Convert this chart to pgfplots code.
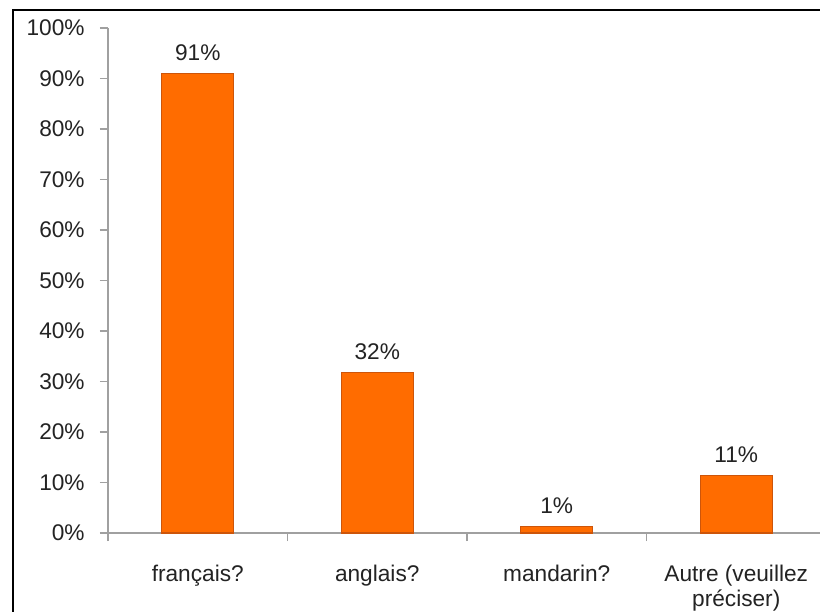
\documentclass[border=0pt]{standalone}
\usepackage{pgfplots}
\pgfplotsset{compat=1.18}
\usepackage{fontspec}
\setmainfont{Liberation Sans}
\definecolor{barfill}{RGB}{255,108,0}
\definecolor{baredge}{RGB}{205,85,10}
\definecolor{axgray}{RGB}{160,160,160}
\definecolor{txt}{RGB}{35,35,35}
\begin{document}
\begin{tikzpicture}[x=0.75pt,y=0.75pt]
\useasboundingbox (0,0) rectangle (820,611);
\clip (0,0) rectangle (820,611);
\fill[white] (0,0) rectangle (820,611);
\draw[black, line width=1.5pt] (12.5,-20) -- (12.5,600.5) -- (840,600.5);
\begin{axis}[
  at={(81pt,58.5pt)}, anchor=south west,
  scale only axis,
  width=538.5pt, height=378.75pt,
  xmin=-0.5, xmax=3.5, ymin=0, ymax=100,
  enlargelimits=false,
  axis lines=left,
  axis line style={-, draw=axgray, line width=1pt},
  tick style={draw=axgray, line width=1pt},
  tick align=outside,
  major tick length=6pt,
  xtick={-0.5,0.5,1.5,2.5,3.5},
  x tick label as interval,
  xticklabels={français?, anglais?, mandarin?, {\begin{tabular}[t]{@{}c@{}}Autre (veuillez\\préciser)\end{tabular}}},
  xticklabel style={anchor=base, yshift=-30pt},
  ytick={0,10,...,100},
  yticklabel={\pgfmathprintnumber{\tick}\%},
  /pgf/number format/assume math mode=true,
  ticklabel style={font=\fontsize{17}{18.75}\selectfont, text=txt},
  yticklabel style={anchor=east, xshift=-8pt},
  ybar,
  bar width=54pt,
  nodes near coords={\pgfmathprintnumber[fixed,precision=0]{\pgfplotspointmeta}\%},
  nodes near coords style={font=\fontsize{17}{18.75}\selectfont, text=txt, anchor=base, yshift=9.75pt},
  clip=false,
]
\addplot[fill=barfill, draw=baredge, line width=0.8pt] coordinates {(0,91) (1,31.7) (2,1.2) (3,11.4)};
\end{axis}
\end{tikzpicture}
\end{document}
